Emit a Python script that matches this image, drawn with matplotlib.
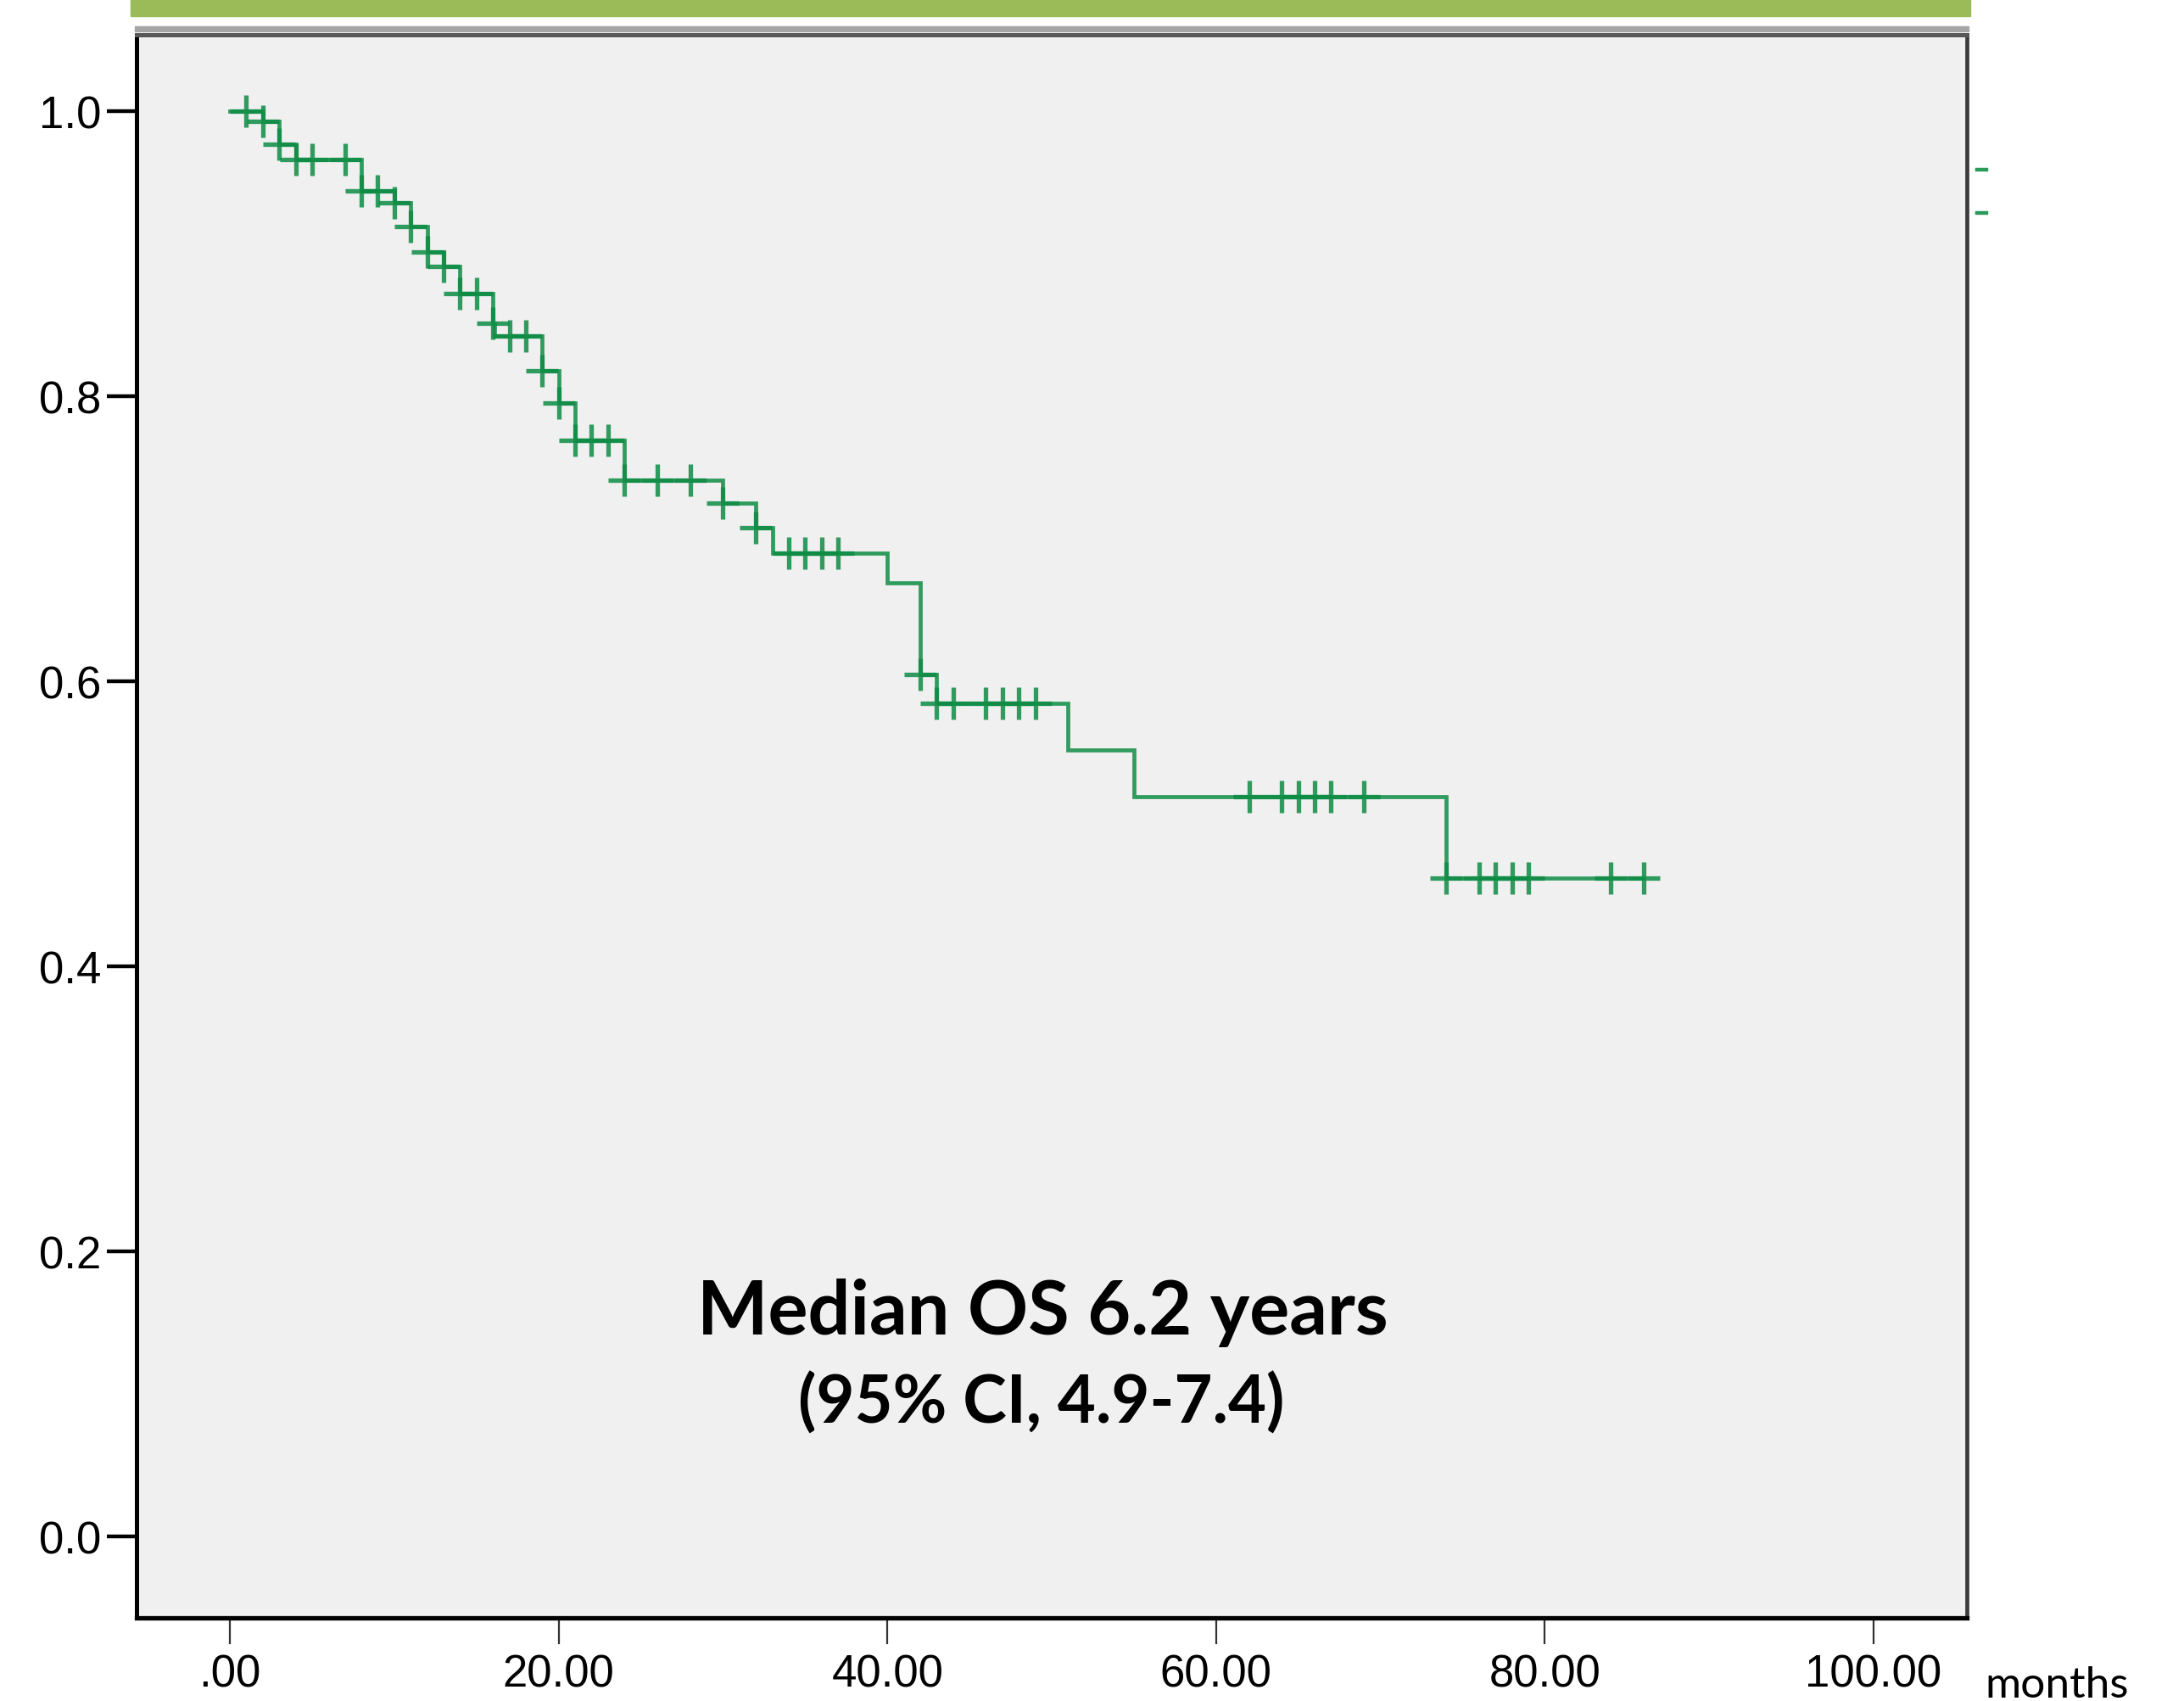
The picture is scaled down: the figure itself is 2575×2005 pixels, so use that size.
import numpy as np
import matplotlib
matplotlib.use("Agg")
import matplotlib.pyplot as plt
from matplotlib.patches import Rectangle
from matplotlib.lines import Line2D

# ---- data ----
event_times = [2.0, 3.0, 4.0, 8.0, 10.0, 11.0, 12.0, 13.0, 14.0, 16.0, 16.1,
               19.0, 20.0, 21.0, 24.0, 30.0, 32.0, 33.0, 40.0, 42.0, 43.0,
               51.0, 55.0, 74.0]
survival = [0.993, 0.977, 0.966, 0.944, 0.936, 0.919, 0.901, 0.891, 0.872,
            0.851, 0.842, 0.818, 0.795, 0.769, 0.741, 0.725, 0.708, 0.690,
            0.669, 0.605, 0.5845, 0.552, 0.519, 0.462]
censor_times = [1.0, 2.0, 3.0, 4.0, 5.0, 7.0, 8.0, 9.0, 10.0, 11.0, 12.0, 13.0,
                14.0, 15.0, 16.0, 17.0, 18.0, 19.0, 20.0, 21.0, 22.0, 23.0,
                24.0, 26.0, 28.0, 30.0, 32.0, 34.0, 35.0, 36.0, 37.0, 42.0,
                43.0, 44.0, 46.0, 47.0, 48.0, 49.0, 62.0, 64.0, 65.0, 66.0,
                67.0, 69.0, 74.0, 76.0, 77.0, 78.0, 79.0, 84.0, 86.0]
x_ticks = [0, 20, 40, 60, 80, 100]
x_tick_labels = [".00", "20.00", "40.00", "60.00", "80.00", "100.00"]
y_ticks = [0.0, 0.2, 0.4, 0.6, 0.8, 1.0]
y_tick_labels = ["0.0", "0.2", "0.4", "0.6", "0.8", "1.0"]
title_line1 = "Median OS 6.2 years"
title_line2 = "(95% CI, 4.9-7.4)"
x_unit = "months"

# ---- figure ----
W, H = 2575, 2006
fig = plt.figure(figsize=(W / 100, H / 100), dpi=100)
fig.patch.set_facecolor("white")

ax_l, ax_r, ax_t, ax_b = 161, 2319, 42, 1908
ax = fig.add_axes([ax_l / W, 1 - ax_b / H, (ax_r - ax_l) / W, (ax_b - ax_t) / H])
ax.set_facecolor("#F0F0F0")

green = "#0E8C45"
t_line = [0.0] + event_times + [max(censor_times)]
s_line = [1.0] + survival + [survival[-1]]
ax.step(t_line, s_line, where="post", color=green, lw=3.4, alpha=0.85,
        solid_joinstyle="miter", zorder=3)

ev = np.array(event_times)
sv = np.array([1.0] + survival)
cens_s = sv[np.searchsorted(ev, np.array(censor_times), side="right")]
ax.plot(censor_times, cens_s, linestyle="none", marker="+", ms=28, mew=3.8,
        color=green, alpha=0.85, zorder=4)

ax.set_xlim(-5.68, 105.68)
ax.set_ylim(-0.0571, 1.0536)

ax.set_xticks(x_ticks)
ax.set_xticklabels(x_tick_labels)
ax.set_yticks(y_ticks)
ax.set_yticklabels(y_tick_labels)

for lab in ax.get_xticklabels() + ax.get_yticklabels():
    lab.set_fontfamily(["Liberation Sans", "DejaVu Sans"])
    lab.set_fontsize(38)

ax.tick_params(axis="y", direction="out", length=25, width=3.2, pad=5,
               color="black")
ax.tick_params(axis="x", direction="out", length=22, width=1.6, pad=8,
               color="#333333")

ax.spines["left"].set_linewidth(3.6)
ax.spines["left"].set_color("black")
ax.spines["bottom"].set_linewidth(3.8)
ax.spines["bottom"].set_color("black")
ax.spines["top"].set_linewidth(3.6)
ax.spines["top"].set_color("#585858")
ax.spines["right"].set_linewidth(3.4)
ax.spines["right"].set_color("#3C3C3C")

# texts
fig.text(1229 / W, 1 - 1573 / H, title_line1, ha="center", va="baseline",
         fontsize=63.5, fontweight="bold", family=["Lato", "DejaVu Sans"])
fig.text(1228 / W, 1 - 1678 / H, title_line2, ha="center", va="baseline",
         fontsize=56, fontweight="bold", family=["Lato", "DejaVu Sans"])
fig.text(2340 / W, 1 - 2001 / H, x_unit, ha="left", va="baseline",
         fontsize=37, family=["Lato", "DejaVu Sans"])

# decorative header bar and frame shading
fig.patches.append(Rectangle((154 / W, 1 - 20 / H), (2323 - 154) / W, 20 / H,
                             transform=fig.transFigure, color="#9BBB59",
                             zorder=0))
fig.patches.append(Rectangle((159 / W, 1 - 38 / H), (2321 - 159) / W, 6 / H,
                             transform=fig.transFigure, color="#A6A6A6",
                             zorder=0))
# leftover legend ticks at right edge
for yy in (201, 252):
    fig.lines.append(Line2D([2331 / W, 2342 / W], [1 - yy / H, 1 - yy / H],
                            transform=fig.transFigure, color="#2A9A5A",
                            lw=3.2))

fig.savefig("out.png", dpi=100, facecolor="white")
